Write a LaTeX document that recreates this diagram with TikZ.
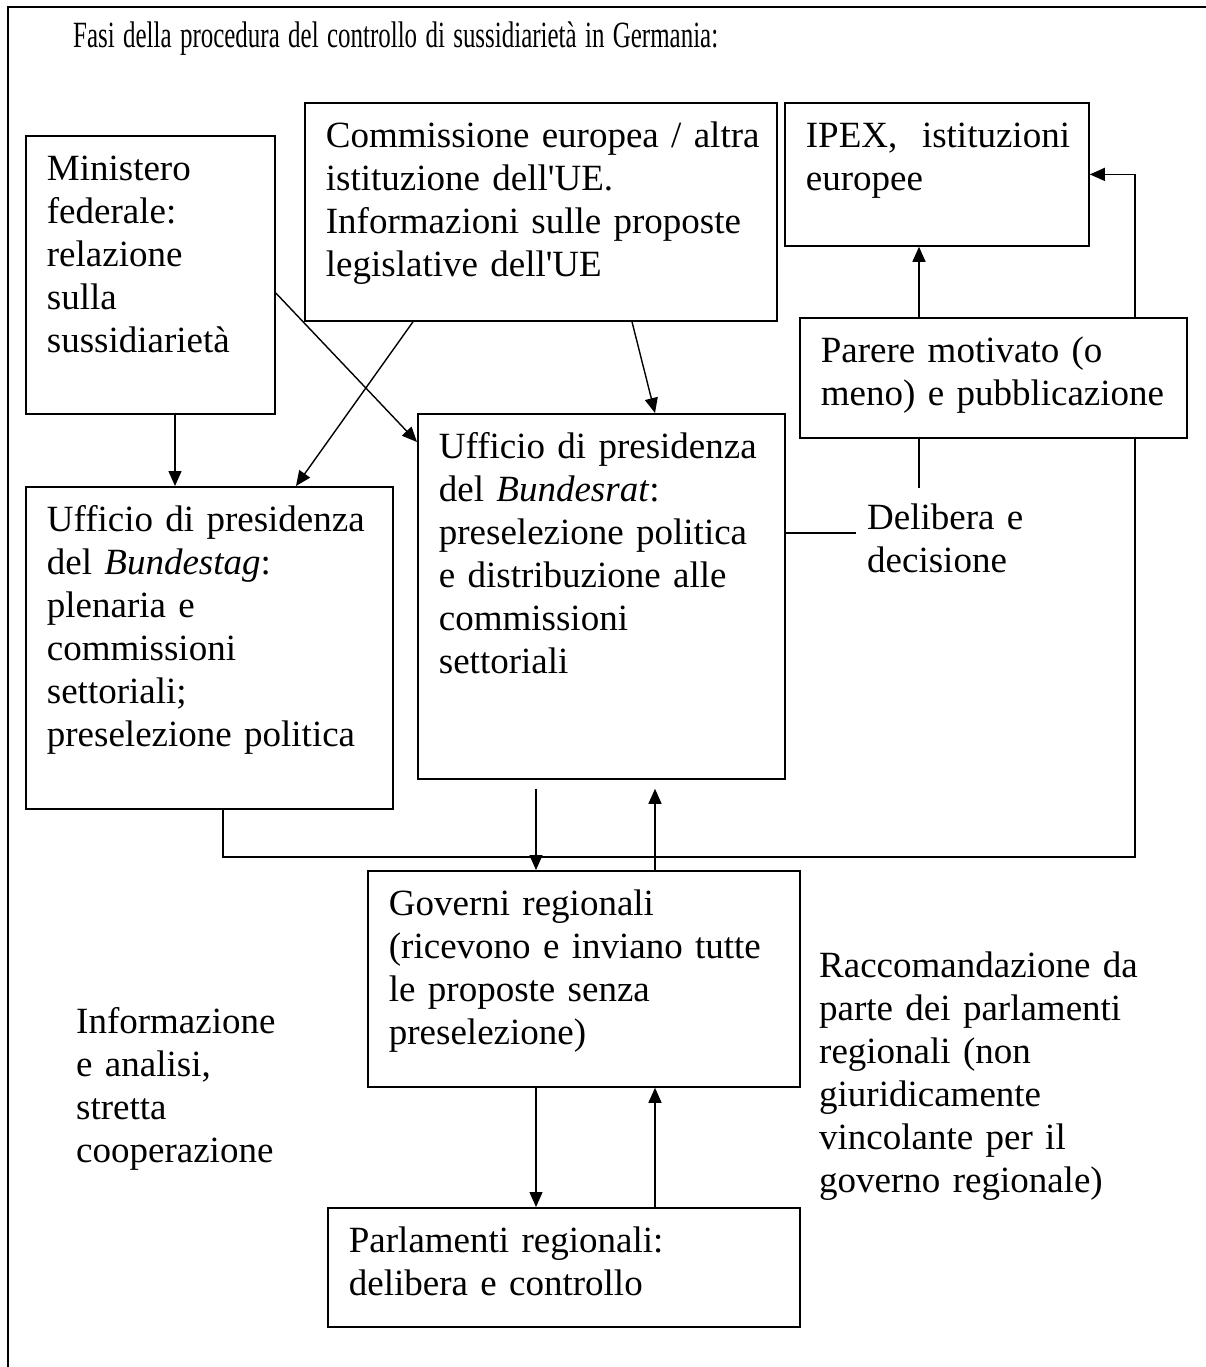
\documentclass[tikz,border=0pt]{standalone}
\usepackage{fontspec}
\usepackage{graphicx}
\setmainfont{Liberation Serif}[Ligatures=TeXOff]
\usetikzlibrary{arrows.meta}

\tikzset{
  stagebox/.style 2 args={draw, line width=1.8pt, anchor=north west,
    inner xsep=21pt, inner ysep=0pt, align=left,
    text width=#1-42pt, text height=45pt, text depth=#2-45pt},
  note/.style={anchor=base west, inner sep=0pt, align=left, text width=400pt},
  link/.style={line width=1.4pt},
  flow/.style={line width=1.4pt, -{Triangle[width=13pt,length=15pt]}},
  every node/.style={execute at begin node={\hyphenpenalty=10000
    \rightskip=0pt plus 1fil minus 60pt\relax}}
}

\begin{document}
\begin{tikzpicture}[x=1pt, y=-1pt, font=\fontsize{37}{43}\selectfont]
  \useasboundingbox (0,0) rectangle (1206,1367);

  %%% frame and title
  \draw[line width=1.8pt] (8,1367) |- (1206,7);
  \node[note, text width=700pt] (title) at (73,48)
    {\scalebox{0.675}[1]{Fasi della procedura del controllo di sussidiarietà in Germania:}};

  %%% boxes
  \node[stagebox={249pt}{278pt}] (min) at (25,135)
    {Ministero\\federale:\\relazione\\sulla\\sussidiarietà};
  \node[stagebox={472pt}{218pt}] (comm) at (304,102)
    {Commissione europea / altra\\istituzione dell'UE.\\Informazioni sulle proposte\\legislative dell'UE};
  \node[stagebox={304pt}{143pt}] (ipex) at (784,102)
    {IPEX,\ \ istituzioni\\europee};
  \node[stagebox={387pt}{120pt}] (parere) at (799,317)
    {Parere motivato (o\\meno) e pubblicazione};
  \node[stagebox={367pt}{322pt}] (btag) at (25,486)
    {Ufficio di presidenza\\del \textit{Bundestag}:\\plenaria e\\commissioni\\settoriali;\\preselezione politica};
  \node[stagebox={367pt}{365pt}] (brat) at (417,413)
    {Ufficio di presidenza\\del \textit{Bundesrat}:\\preselezione politica\\e distribuzione alle\\commissioni\\settoriali};
  \node[stagebox={432pt}{216pt}] (gov) at (367,870)
    {Governi regionali\\(ricevono e inviano tutte\\le proposte senza\\preselezione)};
  \node[stagebox={472pt}{119pt}] (parl) at (327,1207)
    {Parlamenti regionali:\\delibera e controllo};

  %%% free texts
  \node[note] (delib) at (867,529) {Delibera e\\decisione};
  \node[note] (info) at (76,1033) {Informazione\\e analisi,\\stretta\\cooperazione};
  \node[note] (racc) at (819,977)
    {Raccomandazione da\\parte dei parlamenti\\regionali (non\\giuridicamente\\vincolante per il\\governo regionale)};

  %%% top part
  \coordinate (minout) at ([xshift=150pt]min.south west);
  \draw[flow] (minout) -- (minout |- btag.north);
  \draw[flow] ([yshift=-158pt]min.north east) -- ([yshift=-29pt]brat.north west);
  \draw[flow] ([xshift=109pt]comm.south west) -- ([xshift=271pt]btag.north west);
  \draw[flow] ([xshift=328pt]comm.south west) -- ([xshift=238pt]brat.north west);

  \coordinate (parup) at ([xshift=120pt]parere.north west);
  \draw[flow] (parup) -- (parup |- ipex.south);
  \draw[flow] ([xshift=336pt]parere.north west) |- (ipex.east);

  \coordinate (delibend) at ([xshift=-11pt,yshift=-4pt]delib.base west);
  \draw[link] (brat.east |- delibend) -- (delibend);
  \draw[link] ([xshift=120pt]parere.south west) -- ++(0,49);

  %%% loop back to the Parere box
  \draw[link] ([xshift=198pt]btag.south west) -- ++(0,47)
    -| ([xshift=336pt]parere.south west);

  %%% regional level
  \coordinate (bratdown) at ([xshift=119pt,yshift=-9pt]brat.south west);
  \coordinate (bratup) at ([xshift=238pt,yshift=-9pt]brat.south west);
  \draw[flow] (bratdown) -- (bratdown |- gov.north);
  \draw[flow] (bratup |- gov.north) -- (bratup);

  \coordinate (govdown) at ([xshift=169pt]gov.south west);
  \coordinate (parlup) at ([xshift=328pt]parl.north west);
  \draw[flow] (govdown) -- (govdown |- parl.north);
  \draw[flow] (parlup) -- (parlup |- gov.south);
\end{tikzpicture}
\end{document}
